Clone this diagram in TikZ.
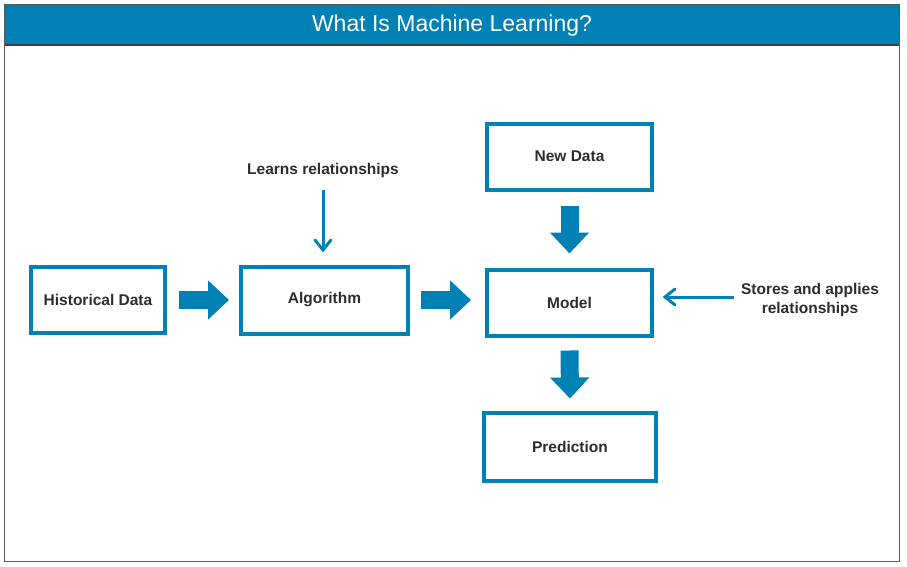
\documentclass[tikz,border=0pt]{standalone}
\usepackage{fontspec}
\setmainfont{Liberation Sans}
\usetikzlibrary{arrows.meta}
\definecolor{mlblue}{RGB}{0,129,181}
\definecolor{mltext}{RGB}{45,45,45}
\definecolor{mlframe}{RGB}{90,90,90}
\begin{document}
\begin{tikzpicture}[x=1pt,y=-1pt,
  box/.style={draw=mlblue,line width=4pt,fill=white,text=mltext,
    font=\fontsize{15.5}{19}\selectfont\bfseries,inner sep=0pt},
  lbl/.style={text=mltext,font=\fontsize{15.5}{19}\selectfont\bfseries,
    inner sep=0pt,align=center},
  blockarrow/.style={draw=mlblue,line width=18pt,
    -{Triangle[length=21pt,width=38pt]}},
  thinline/.style={draw=mlblue,line width=3pt},
  chevron/.style={draw=mlblue,line width=3pt,line cap=round,line join=miter}]
\useasboundingbox (0,0) rectangle (907,566);
% frame and title bar
\fill[white] (4.5,4.5) rectangle (899.5,561.5);
\fill[mlblue] (5,5) rectangle (899,45);
\draw[mlframe,line width=1.2pt] (4.5,4.5) rectangle (899.5,561.5);
\draw[mlframe!70!black,line width=1.5pt] (5,45) -- (899,45);
\node[text=white,font=\fontsize{23}{27}\selectfont,inner sep=0pt] (title) at (452,26) {What Is Machine Learning?};
% boxes
\node[box,minimum width=134pt,minimum height=66pt] (hist) at (98,300) {Historical Data};
\node[box,minimum width=167pt,minimum height=67pt] (algo) at (324.5,300) {Algorithm};
\node[box,minimum width=165pt,minimum height=66pt] (newd) at (569.5,156.5) {New Data};
\node[box,minimum width=165pt,minimum height=66pt] (model) at (569.5,302.5) {Model};
\node[box,minimum width=172pt,minimum height=68pt] (pred) at (570,446.5) {Prediction};
% labels
\node[lbl] (learns) at (323,170) {Learns relationships};
\node[lbl] (stores) at (810,300) {Stores and applies\\relationships};
% block arrows
\draw[blockarrow] ([xshift=12pt]hist.east) -- ([xshift=-10pt]algo.west);
\draw[blockarrow] ([xshift=11pt]algo.east) -- ([xshift=-14pt]algo.east -| model.west);
\draw[blockarrow] ([yshift=-14pt]newd.south) -- ([yshift=14pt]model.north);
\draw[blockarrow] ([yshift=-13pt]model.south) -- ([yshift=12pt]pred.north);
% thin arrows
\coordinate (lt) at (learns.south |- 0,190);
\coordinate (lh) at (learns.south |- 0,250);
\draw[thinline] (lt) -- ([yshift=2pt]lh);
\draw[chevron] ([xshift=-8pt,yshift=10pt]lh) -- (lh) -- ([xshift=8pt,yshift=10pt]lh);
\coordinate (st) at ([xshift=-7pt]stores.west |- 0,297);
\coordinate (sh) at ([xshift=11pt]model.east |- 0,297);
\draw[thinline] (st) -- ([xshift=2pt]sh);
\draw[chevron] ([xshift=10pt,yshift=-8pt]sh) -- (sh) -- ([xshift=10pt,yshift=8pt]sh);
\end{tikzpicture}
\end{document}
